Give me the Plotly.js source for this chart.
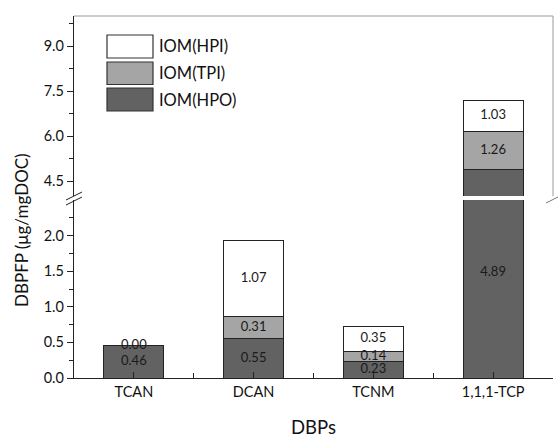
<!DOCTYPE html>
<html>
<head>
<meta charset="utf-8">
<script src="https://cdn.plot.ly/plotly-3.0.1.min.js"></script>
<style>html,body{margin:0;padding:0;background:#fff;}#chart{width:558px;height:440px;}</style>
</head>
<body>
<div id="chart"></div>
<script>
// ---- data ----
const categories = ['TCAN', 'DCAN', 'TCNM', '1,1,1-TCP'];
const hpo = [0.46, 0.55, 0.23, 4.89];
const tpi = [0.00, 0.31, 0.14, 1.26];
const hpi = [0.00, 1.07, 0.35, 1.03];
const seriesNames = ['IOM(HPO)', 'IOM(TPI)', 'IOM(HPI)'];
const lowerTicks = [0, 0.5, 1.0, 1.5, 2.0];
const upperTicks = [4.5, 6.0, 7.5, 9.0];

// ---- style ----
const FONT = 'Lato, "Open Sans", sans-serif';
const fills = ['#626262', '#a5a5a5', '#ffffff'];
const edge = '#222222';
const lowerRange = [0, 2.5];
const upperRange = [4, 10];
const W = 558, H = 440, L = 74, R = 5, T = 16, B = 62;
const pw = W - L - R, ph = H - T - B;
const px = x => (x - L) / pw;
const py = y => (H - B - y) / ph;

const xs = categories.map((c, i) => i);
const series = [hpo, tpi, hpi];
const traces = [];
['y', 'y2'].forEach((ax, k) => {
  series.forEach((vals, s) => {
    traces.push({
      type: 'bar', x: xs, y: vals, yaxis: ax, name: seriesNames[s],
      width: 0.5, showlegend: false,
      marker: {color: fills[s], line: {color: edge, width: 1}},
      hoverinfo: 'skip'
    });
  });
});

// value labels at segment centres (identical labels at one spot drawn once)
const lowX = [], lowY = [], lowT = [], upX = [], upY = [], upT = [];
const seen = new Set();
xs.forEach((x, i) => {
  let base = 0;
  series.forEach(vals => {
    const v = vals[i];
    const c = base + v / 2;
    const top = base + v;
    const txt = v.toFixed(2);
    const key = x + '|' + c.toFixed(4) + '|' + txt;
    if (!seen.has(key)) {
      seen.add(key);
      if (top <= lowerRange[1]) {
        lowX.push(x); lowY.push(c); lowT.push(txt);
      } else if (base >= upperRange[0]) {
        upX.push(x); upY.push(c); upT.push(txt);
      } else {
        // segment crosses the break: label inside the visible lower part
        lowX.push(x); lowY.push(lowerRange[1] * 0.59); lowT.push(txt);
      }
    }
    base = top;
  });
});
const tfont = {family: FONT, size: 13, color: '#1a1a1a'};
traces.push({type: 'scatter', mode: 'text', x: lowX, y: lowY, text: lowT, yaxis: 'y',
  textfont: tfont, showlegend: false, hoverinfo: 'skip', cliponaxis: false});
traces.push({type: 'scatter', mode: 'text', x: upX, y: upY, text: upT, yaxis: 'y2',
  textfont: tfont, showlegend: false, hoverinfo: 'skip', cliponaxis: false});

const lowTop = py(200), upBot = py(196);
const lowerMinor = lowerTicks.map(v => v + 0.25);
const upperMinor = upperTicks.map(v => v + 0.75);

const shapes = [];
const line = (x0, y0, x1, y1, color, w) => shapes.push({type: 'line', xref: 'paper', yref: 'paper',
  x0: px(x0), y0: py(y0), x1: px(x1), y1: py(y1), line: {color: color, width: w}});
// top & right frame of upper section
line(L, T, W - R, T, '#9a9a9a', 1);
line(W - R, T, W - R, 196, '#9a9a9a', 1);
// axis break marks
line(66, 200, 82, 192, '#222', 1);
line(66, 205, 82, 197, '#222', 1);
line(546, 203, 558, 197, '#777', 1);
// legend boxes
const legendRows = [[35, 58], [62, 84.5], [88, 111]];
const legendOrder = [2, 1, 0];
const annotations = [];
legendRows.forEach((r, k) => {
  const s = legendOrder[k];
  shapes.push({type: 'rect', xref: 'paper', yref: 'paper', x0: px(107), x1: px(153), y0: py(r[1]), y1: py(r[0]),
    fillcolor: fills[s], line: {color: '#333', width: 1.2}});
  annotations.push({xref: 'paper', yref: 'paper', x: px(157), y: py((r[0] + r[1]) / 2),
    xanchor: 'left', yanchor: 'middle', showarrow: false, text: seriesNames[s],
    font: {family: FONT, size: 16.5, color: '#111'}});
});
annotations.push({xref: 'paper', yref: 'paper', x: px(22), y: py(230), textangle: -90,
  xanchor: 'center', yanchor: 'middle', showarrow: false, text: 'DBPFP (μg/mgDOC)',
  font: {family: FONT, size: 17, color: '#111'}});

const layout = {
  width: W, height: H,
  margin: {l: L, r: R, t: T, b: B, pad: 0},
  paper_bgcolor: '#fff', plot_bgcolor: 'rgba(0,0,0,0)',
  barmode: 'stack', showlegend: false, hovermode: false,
  font: {family: FONT, color: '#111'},
  xaxis: {
    type: 'linear', range: [-0.5, 3.5], tickmode: 'array', tickvals: xs, ticktext: categories,
    ticks: 'inside', ticklen: 6, tickcolor: '#222', showline: true, linecolor: '#222', linewidth: 1.2,
    showgrid: false, zeroline: false, tickfont: {family: FONT, size: 14.5, color: '#111'},
    minor: {tickmode: 'array', tickvals: [0.5, 1.5, 2.5], ticks: 'inside', ticklen: 5, tickcolor: '#222'},
    title: {text: 'DBPs', font: {family: FONT, size: 18.5, color: '#111'}, standoff: 22},
    anchor: 'y'
  },
  yaxis: {
    domain: [0, lowTop], range: lowerRange, tickmode: 'array', tickvals: lowerTicks,
    tickformat: '.1f', ticks: 'outside', ticklen: 6, tickcolor: '#222',
    showline: true, linecolor: '#222', linewidth: 1.2, showgrid: false, zeroline: false,
    tickfont: {family: FONT, size: 14.5, color: '#111'},
    minor: {tickmode: 'array', tickvals: lowerMinor, ticks: 'outside', ticklen: 4, tickcolor: '#222'}
  },
  yaxis2: {
    domain: [upBot, 1], range: upperRange, tickmode: 'array', tickvals: upperTicks,
    tickformat: '.1f', ticks: 'outside', ticklen: 6, tickcolor: '#222',
    showline: true, linecolor: '#222', linewidth: 1.2, showgrid: false, zeroline: false,
    tickfont: {family: FONT, size: 14.5, color: '#111'}, anchor: 'x',
    minor: {tickmode: 'array', tickvals: upperMinor, ticks: 'outside', ticklen: 4, tickcolor: '#222'}
  },
  shapes: shapes,
  annotations: annotations
};

Plotly.newPlot('chart', traces, layout, {staticPlot: true, displayModeBar: false});
</script>
</body>
</html>
